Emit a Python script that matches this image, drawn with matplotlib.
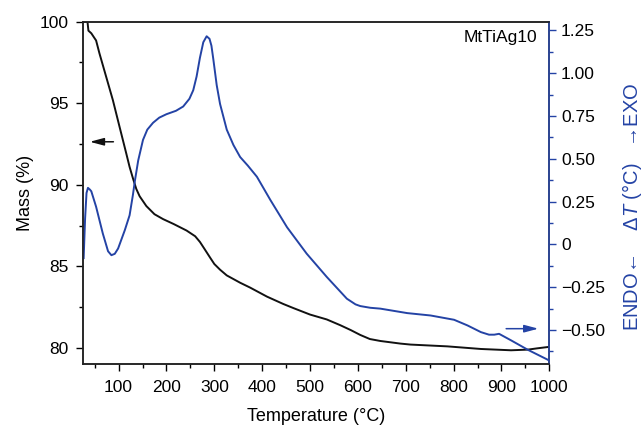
import matplotlib
matplotlib.use('Agg')
import matplotlib.pyplot as plt
from matplotlib.ticker import MultipleLocator, FixedLocator
import numpy as np

plt.rcParams['font.family'] = ['Liberation Sans', 'DejaVu Sans']
plt.rcParams['mathtext.fontset'] = 'custom'
plt.rcParams['mathtext.rm'] = 'Liberation Sans'
plt.rcParams['mathtext.it'] = 'Liberation Sans:italic'

# TG curve (mass %)
tg_temp = [25, 35, 37, 43, 50, 53, 60, 74, 88, 102, 116, 123, 130, 137, 144, 151,
           158, 175, 193, 215, 242, 260, 270, 280, 291, 300, 312, 326, 354, 375,
           410, 444, 465, 500, 535, 563, 585, 605, 625, 647, 689, 710, 787, 857,
           920, 955, 975, 997]
tg_mass = [100.0, 100.0, 99.45, 99.29, 98.98, 98.85, 98.06, 96.63, 95.2, 93.56,
           91.93, 91.1, 90.4, 89.75, 89.3, 89.0, 88.7, 88.2, 87.9, 87.6, 87.2,
           86.85, 86.5, 86.05, 85.55, 85.15, 84.8, 84.45, 84.0, 83.7, 83.15, 82.7,
           82.45, 82.05, 81.75, 81.4, 81.1, 80.8, 80.55, 80.43, 80.27, 80.21, 80.1,
           79.94, 79.86, 79.9, 79.98, 80.06]

# DTA curve (delta T, degC)
dta_temp = [27, 30, 33, 36, 40, 43, 53, 67, 78, 85, 92, 99, 113, 123, 130, 134,
            141, 151, 160, 172, 185, 200, 220, 235, 248, 256, 263, 270, 277, 284,
            290, 294, 298, 305, 312, 326, 340, 354, 370, 389, 417, 452, 493, 535,
            577, 595, 605, 626, 647, 703, 752, 801, 829, 857, 874, 885, 895, 920,
            955, 993, 1000]
dta_dt = [-0.08, 0.15, 0.30, 0.33, 0.32, 0.31, 0.22, 0.064, -0.04, -0.063, -0.055,
          -0.024, 0.083, 0.17, 0.29, 0.37, 0.49, 0.61, 0.67, 0.71, 0.74, 0.76, 0.78,
          0.805, 0.85, 0.90, 0.98, 1.09, 1.18, 1.215, 1.20, 1.16, 1.08, 0.93, 0.82,
          0.67, 0.58, 0.51, 0.46, 0.395, 0.26, 0.10, -0.054, -0.19, -0.317, -0.35,
          -0.36, -0.37, -0.375, -0.401, -0.415, -0.44, -0.473, -0.512, -0.527,
          -0.527, -0.522, -0.56, -0.615, -0.668, -0.678]

blue = '#2443a5'

fig = plt.figure(figsize=(6.43, 4.28), dpi=100)
ax = fig.add_axes([0.1286, 0.1488, 0.7257, 0.8005])
ax2 = ax.twinx()

ax.plot(tg_temp, tg_mass, color='#111111', lw=1.4)
ax2.plot(dta_temp, dta_dt, color=blue, lw=1.4)

ax.set_xlim(25, 1000)
ax.set_ylim(79, 100)
ax2.set_ylim(-0.70, 1.30)

ax.xaxis.set_major_locator(FixedLocator(np.arange(100, 1001, 100)))
ax.xaxis.set_minor_locator(FixedLocator(np.arange(50, 1001, 100)))
ax.yaxis.set_major_locator(MultipleLocator(5))
ax.yaxis.set_minor_locator(MultipleLocator(2.5))
ax2.yaxis.set_minor_locator(MultipleLocator(0.125))

ax2.set_yticks([-0.5, -0.25, 0, 0.25, 0.5, 0.75, 1.0, 1.25])
ax2.set_yticklabels(['\u22120.50', '\u22120.25', '0', '0.25', '0.50', '0.75', '1.00', '1.25'])

for a in (ax, ax2):
    a.tick_params(which='major', length=5, width=1, labelsize=12.5, direction='out')
    a.tick_params(which='minor', length=3, width=1, direction='out')
    for s in a.spines.values():
        s.set_linewidth(1.1)
        s.set_color('#222222')
ax2.spines['right'].set_color(blue)
ax2.tick_params(axis='y', which='both', color=blue)
ax.tick_params(top=False, which='both')
ax.tick_params(axis='x', pad=6.5)
ax.tick_params(axis='y', pad=5)

ax.set_xlabel('Temperature (\u00b0C)', fontsize=13, labelpad=9)
ax.set_ylabel('Mass (%)', fontsize=13, labelpad=4)
fig.text(632 / 643, 1 - 207 / 428, 'ENDO\u2190    \u0394$T$ (\u00b0C)   \u2192EXO',
         rotation=90, ha='center', va='center', fontsize=14.5, color=blue)

ax.text(0.975, 0.975, 'MtTiAg10', transform=ax.transAxes, ha='right', va='top', fontsize=12.5)

# direction arrows
ax.annotate('', xy=(34, 92.64), xytext=(95, 92.64),
            arrowprops=dict(arrowstyle='-|>,head_length=0.6,head_width=0.16',
                            color='#111111', lw=1.1, mutation_scale=14))
ax2.annotate('', xy=(983, -0.492), xytext=(904, -0.492),
             arrowprops=dict(arrowstyle='-|>,head_length=0.6,head_width=0.16',
                             color=blue, lw=1.1, mutation_scale=14))

fig.savefig('out.png', dpi=100)
